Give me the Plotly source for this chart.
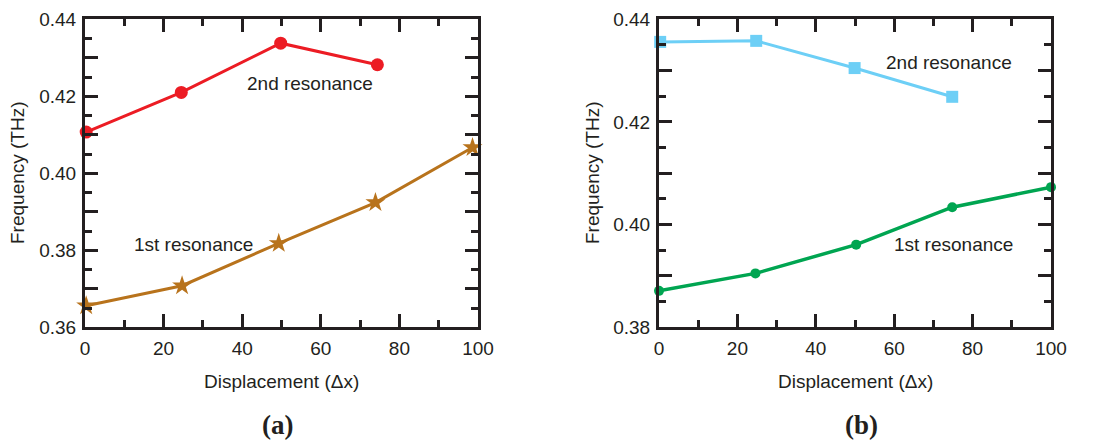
import plotly.graph_objects as go

# ---- data ----
a_x_2nd = [0.3, 24.5, 49.8, 74.4]
a_y_2nd = [0.4107, 0.4210, 0.4338, 0.4282]
a_x_1st = [0.3, 24.7, 49.3, 73.9, 98.6]
a_y_1st = [0.3656, 0.3708, 0.3818, 0.3924, 0.4067]

b_x_2nd = [0.3, 24.8, 49.9, 74.8]
b_y_2nd = [0.4356, 0.4358, 0.4305, 0.4249]
b_x_1st = [0.0, 24.6, 50.3, 74.8, 100.0]
b_y_1st = [0.3871, 0.3905, 0.3961, 0.4034, 0.4073]

x_ticks = [0, 20, 40, 60, 80, 100]
a_y_ticks = [0.36, 0.37, 0.38, 0.39, 0.40, 0.41, 0.42, 0.43, 0.44]
a_y_text = ["0.36", "", "0.38", "", "0.40", "", "0.42", "", "0.44"]
b_y_ticks = [0.38, 0.39, 0.40, 0.41, 0.42, 0.43, 0.44]
b_y_text = ["0.38", "", "0.40", "", "0.42", "", "0.44"]

FONT = "Liberation Sans, Arial, sans-serif"
INK = "#231F20"
W, H = 1116, 443

fig = go.Figure()

fig.add_trace(go.Scatter(x=a_x_1st, y=a_y_1st, mode="lines+markers", xaxis="x", yaxis="y",
                         line=dict(color="#B8731C", width=3), cliponaxis=False,
                         marker=dict(symbol="star", size=15, color="#B8731C"), showlegend=False))
fig.add_trace(go.Scatter(x=a_x_2nd, y=a_y_2nd, mode="lines+markers", xaxis="x", yaxis="y",
                         line=dict(color="#EC1C24", width=3), cliponaxis=False,
                         marker=dict(symbol="circle", size=13, color="#EC1C24"), showlegend=False))
fig.add_trace(go.Scatter(x=b_x_2nd, y=b_y_2nd, mode="lines+markers", xaxis="x2", yaxis="y2",
                         line=dict(color="#6DCFF6", width=3), cliponaxis=False,
                         marker=dict(symbol="square", size=12, color="#6DCFF6"), showlegend=False))
fig.add_trace(go.Scatter(x=b_x_1st, y=b_y_1st, mode="lines+markers", xaxis="x2", yaxis="y2",
                         line=dict(color="#00A551", width=3.5), cliponaxis=False,
                         marker=dict(symbol="circle", size=10, color="#00A551"), showlegend=False))

top = 1 - 19.3 / H
bot = 1 - 327.3 / H

tickfont = dict(family=FONT, size=19, color=INK)
common_x = dict(range=[0, 100], tickvals=x_ticks, ticks="inside", ticklen=13, tickwidth=2.5,
                tickcolor=INK, showline=True, linewidth=3, linecolor=INK,
                mirror="allticks", showgrid=False, zeroline=False, automargin=False,
                minor=dict(ticks="inside", ticklen=7, tickwidth=2.5, dtick=10, tickcolor=INK),
                tickfont=tickfont, ticklabelstandoff=2)
common_y = dict(ticks="inside", ticklen=13, tickwidth=2.5, tickcolor=INK, showline=True,
                linewidth=3, linecolor=INK, mirror="allticks", showgrid=False, zeroline=False,
                automargin=False,
                minor=dict(ticks="inside", ticklen=7, tickwidth=2.5, dtick=0.005, tickcolor=INK),
                tickfont=tickfont, ticklabelstandoff=2)

fig.update_layout(
    width=W, height=H, margin=dict(l=0, r=0, t=0, b=0, autoexpand=False),
    paper_bgcolor="white", plot_bgcolor="white",
    xaxis=dict(domain=[85 / W, 478 / W], anchor="y", **common_x),
    yaxis=dict(domain=[bot, top], anchor="x", range=[0.36, 0.44],
               tickvals=a_y_ticks, ticktext=a_y_text, **common_y),
    xaxis2=dict(domain=[659 / W, 1051 / W], anchor="y2", **common_x),
    yaxis2=dict(domain=[bot, top], anchor="x2", range=[0.38, 0.44],
                tickvals=b_y_ticks, ticktext=b_y_text, **common_y),
)

txt = dict(family=FONT, size=19, color=INK)
serif = dict(family="Liberation Serif, Times New Roman, serif", size=27, color=INK)
ann = [
    dict(text="Displacement (Δx)", x=281 / W, y=1 - 381 / H, font=txt),
    dict(text="Displacement (Δx)", x=855 / W, y=1 - 381 / H, font=txt),
    dict(text="Frequency (THz)", x=18 / W, y=1 - 173 / H, font=txt, textangle=-90),
    dict(text="Frequency (THz)", x=593 / W, y=1 - 173 / H, font=txt, textangle=-90),
    dict(text="2nd resonance", x=310 / W, y=1 - 83 / H, font=txt),
    dict(text="1st resonance", x=193 / W, y=1 - 244 / H, font=txt),
    dict(text="2nd resonance", x=949 / W, y=1 - 62 / H, font=txt),
    dict(text="1st resonance", x=953 / W, y=1 - 244 / H, font=txt),
    dict(text="<b>(a)</b>", x=277 / W, y=1 - 425 / H, font=serif),
    dict(text="<b>(b)</b>", x=861 / W, y=1 - 425 / H, font=serif),
]
for a in ann:
    a.update(xref="paper", yref="paper", showarrow=False, xanchor="center", yanchor="middle")
fig.update_layout(annotations=ann)

fig.write_html("out.html")
